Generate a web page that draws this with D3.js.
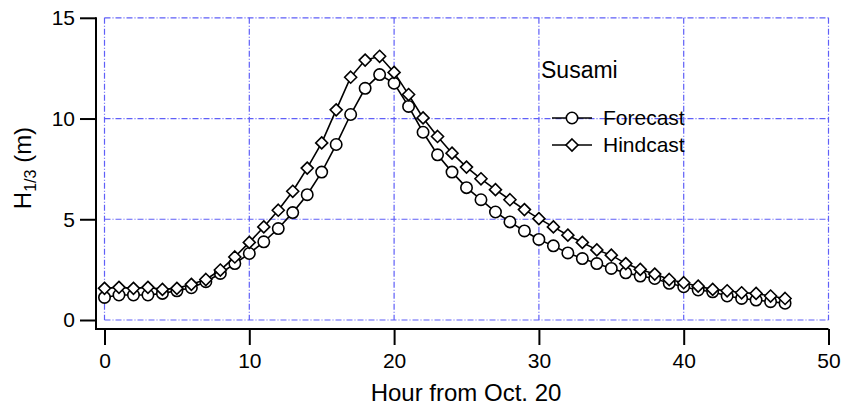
<!DOCTYPE html>
<html>
<head>
<meta charset="utf-8">
<script src="https://cdn.jsdelivr.net/npm/d3@7"></script>
<style>
  html, body { margin: 0; padding: 0; background: #fff; }
  svg { display: block; font-family: "Liberation Sans", Arial, sans-serif; }
</style>
</head>
<body>
<svg id="chart" width="841" height="410"></svg>
<script>
// Significant wave height at Susami, hourly from Oct. 20
const hours = d3.range(0, 48);
const forecast = [
  1.12, 1.24, 1.24, 1.24, 1.32, 1.45, 1.60, 1.90, 2.31, 2.80,
  3.30, 3.88, 4.54, 5.33, 6.22, 7.34, 8.71, 10.20, 11.50, 12.18,
  11.75, 10.60, 9.32, 8.20, 7.34, 6.57, 5.97, 5.36, 4.87, 4.42,
  4.00, 3.68, 3.33, 3.05, 2.80, 2.56, 2.34, 2.18, 2.06, 1.82,
  1.65, 1.49, 1.40, 1.19, 1.07, 0.99, 0.91, 0.83
];
const hindcast = [
  1.57, 1.62, 1.57, 1.62, 1.52, 1.57, 1.77, 2.01, 2.48, 3.13,
  3.85, 4.62, 5.45, 6.39, 7.54, 8.79, 10.43, 12.05, 12.90, 13.09,
  12.29, 11.19, 10.03, 9.11, 8.28, 7.59, 7.01, 6.47, 5.97, 5.48,
  5.03, 4.62, 4.21, 3.85, 3.48, 3.22, 2.80, 2.51, 2.28, 2.01,
  1.85, 1.68, 1.52, 1.45, 1.35, 1.32, 1.19, 1.07
];
const xTicks = [0, 10, 20, 30, 40, 50];
const yTicks = [0, 5, 10, 15];
const stationName = "Susami";
const seriesNames = ["Forecast", "Hindcast"];

const svg = d3.select("#chart");
const x = d3.scaleLinear().domain([0, 50]).range([104.5, 828.5]);
const y = d3.scaleLinear().domain([0, 15]).range([320, 17.8]);

const axisX = 96;    // position of the vertical axis line
const axisY = 329;   // position of the horizontal axis line
const font = "Liberation Sans, Arial, sans-serif";

// dash-dot grid
const gridColor = "#5f5ff8";
const dash = "6,2,1,2";
const grid = svg.append("g");
grid.selectAll("line.gx").data(xTicks).join("line")
  .attr("x1", d => x(d)).attr("x2", d => x(d))
  .attr("y1", y(15)).attr("y2", y(0))
  .attr("stroke", gridColor).attr("stroke-width", 1.2)
  .attr("stroke-dasharray", dash);
grid.selectAll("line.gy").data(yTicks).join("line")
  .attr("x1", x(0)).attr("x2", x(50))
  .attr("y1", d => y(d)).attr("y2", d => y(d))
  .attr("stroke", gridColor).attr("stroke-width", 1.2)
  .attr("stroke-dasharray", dash);

// axes
const yAxis = d3.axisLeft(y).tickValues(yTicks).tickSize(16).tickPadding(5).tickSizeOuter(0);
const gy = svg.append("g").attr("transform", `translate(${axisX},0)`).call(yAxis);
gy.select(".domain").remove();
gy.selectAll(".tick line").attr("stroke", "#000").attr("stroke-width", 2);
gy.selectAll(".tick text").attr("font-size", 21).attr("fill", "#000").attr("font-family", font);
svg.append("line").attr("x1", axisX).attr("x2", axisX)
  .attr("y1", y(15) - 0.5).attr("y2", axisY + 1)
  .attr("stroke", "#000").attr("stroke-width", 2);

const xAxis = d3.axisBottom(x).tickValues(xTicks).tickSize(16).tickPadding(8).tickSizeOuter(0);
const gx = svg.append("g").attr("transform", `translate(0,${axisY})`).call(xAxis);
gx.select(".domain").remove();
gx.selectAll(".tick line").attr("stroke", "#000").attr("stroke-width", 2);
gx.selectAll(".tick text").attr("font-size", 21).attr("fill", "#000").attr("font-family", font);
svg.append("line").attr("x1", axisX).attr("x2", x(50))
  .attr("y1", axisY).attr("y2", axisY)
  .attr("stroke", "#000").attr("stroke-width", 2);

// axis titles
svg.append("text").attr("x", 466).attr("y", 401).attr("text-anchor", "middle")
  .attr("font-size", 24).text("Hour from Oct. 20");
const yt = svg.append("text").attr("transform", "translate(31,168) rotate(-90)")
  .attr("text-anchor", "middle").attr("font-size", 24);
yt.append("tspan").text("H");
yt.append("tspan").attr("font-size", 16).attr("dy", 5).text("1/3");
yt.append("tspan").attr("dy", -5).text(" (m)");

// series
const line = d3.line().x((d, i) => x(hours[i])).y(d => y(d));
const diamond = r => `M0,${-r}L${r},0L0,${r}L${-r},0Z`;

svg.append("path").datum(forecast).attr("d", line)
  .attr("fill", "none").attr("stroke", "#000").attr("stroke-width", 1.6);
svg.append("g").selectAll("circle").data(forecast).join("circle")
  .attr("cx", (d, i) => x(hours[i])).attr("cy", d => y(d)).attr("r", 5.7)
  .attr("fill", "#fff").attr("stroke", "#000").attr("stroke-width", 1.6);

svg.append("path").datum(hindcast).attr("d", line)
  .attr("fill", "none").attr("stroke", "#000").attr("stroke-width", 1.6);
svg.append("g").selectAll("path").data(hindcast).join("path")
  .attr("transform", (d, i) => `translate(${x(hours[i])},${y(d)})`)
  .attr("d", diamond(6))
  .attr("fill", "#fff").attr("stroke", "#000").attr("stroke-width", 1.6);

// legend
svg.append("text").attr("x", 541).attr("y", 78).attr("font-size", 23).text(stationName);
const leg = svg.append("g");
const legY = [118, 145];
seriesNames.forEach((name, i) => {
  leg.append("line").attr("x1", 552).attr("x2", 592).attr("y1", legY[i]).attr("y2", legY[i])
    .attr("stroke", "#000").attr("stroke-width", 1.6);
  if (i === 0) {
    leg.append("circle").attr("cx", 572).attr("cy", legY[i]).attr("r", 5.7)
      .attr("fill", "#fff").attr("stroke", "#000").attr("stroke-width", 1.6);
  } else {
    leg.append("path").attr("transform", `translate(572,${legY[i]})`).attr("d", diamond(6))
      .attr("fill", "#fff").attr("stroke", "#000").attr("stroke-width", 1.6);
  }
  leg.append("text").attr("x", 603).attr("y", legY[i] + 7).attr("font-size", 21).text(name);
});
</script>
</body>
</html>
